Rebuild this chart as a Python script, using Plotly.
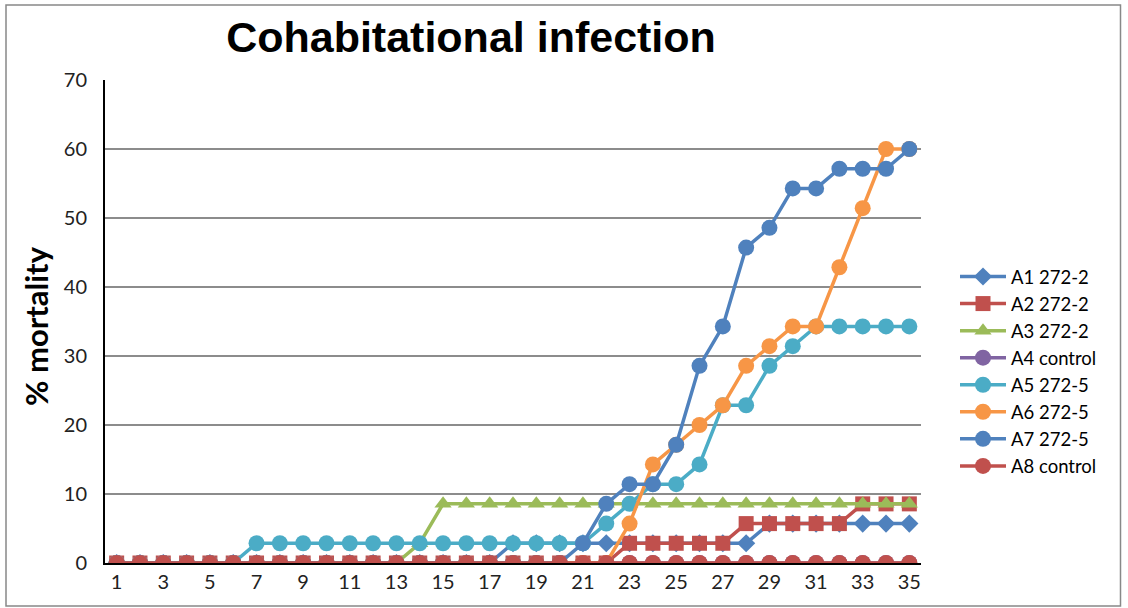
import plotly.graph_objects as go

days = [1, 2, 3, 4, 5, 6, 7, 8, 9, 10, 11, 12, 13, 14, 15, 16, 17, 18, 19, 20,
        21, 22, 23, 24, 25, 26, 27, 28, 29, 30, 31, 32, 33, 34, 35]
x_tick_labels = [1, 3, 5, 7, 9, 11, 13, 15, 17, 19, 21, 23, 25, 27, 29, 31, 33, 35]
y_tick_labels = [0, 10, 20, 30, 40, 50, 60, 70]

series_names = ["A1 272-2", "A2 272-2", "A3 272-2", "A4 control",
                "A5 272-5", "A6 272-5", "A7 272-5", "A8 control"]

a1 = [0, 0, 0, 0, 0, 0, 0, 0, 0, 0, 0, 0, 0, 0, 0, 0, 0,
      2.86, 2.86, 2.86, 2.86, 2.86, 2.86, 2.86, 2.86, 2.86, 2.86, 2.86,
      5.71, 5.71, 5.71, 5.71, 5.71, 5.71, 5.71]
a2 = [0, 0, 0, 0, 0, 0, 0, 0, 0, 0, 0, 0, 0, 0, 0, 0, 0, 0, 0, 0, 0, 0,
      2.86, 2.86, 2.86, 2.86, 2.86,
      5.71, 5.71, 5.71, 5.71, 5.71,
      8.57, 8.57, 8.57]
a3 = [0, 0, 0, 0, 0, 0, 0, 0, 0, 0, 0, 0, 0, 2.86,
      8.57, 8.57, 8.57, 8.57, 8.57, 8.57, 8.57, 8.57, 8.57, 8.57, 8.57,
      8.57, 8.57, 8.57, 8.57, 8.57, 8.57, 8.57, 8.57, 8.57, 8.57]
a4 = [0, 0, 0, 0, 0, 0, 0, 0, 0, 0, 0, 0, 0, 0, 0, 0, 0, 0, 0, 0,
      0, 0, 0, 0, 0, 0, 0, 0, 0, 0, 0, 0, 0, 0, 0]
a5 = [0, 0, 0, 0, 0, 0,
      2.86, 2.86, 2.86, 2.86, 2.86, 2.86, 2.86, 2.86, 2.86, 2.86, 2.86, 2.86,
      2.86, 2.86, 2.86,
      5.71, 8.57, 11.43, 11.43, 14.29, 22.86, 22.86, 28.57, 31.43,
      34.29, 34.29, 34.29, 34.29, 34.29]
a6 = [0, 0, 0, 0, 0, 0, 0, 0, 0, 0, 0, 0, 0, 0, 0, 0, 0, 0, 0, 0, 0, 0,
      5.71, 14.29, 17.14, 20.0, 22.86, 28.57, 31.43, 34.29, 34.29,
      42.86, 51.43, 60.0, 60.0]
a7 = [0, 0, 0, 0, 0, 0, 0, 0, 0, 0, 0, 0, 0, 0, 0, 0, 0, 0, 0, 0,
      2.86, 8.57, 11.43, 11.43, 17.14, 28.57, 34.29, 45.71, 48.57,
      54.29, 54.29, 57.14, 57.14, 57.14, 60.0]
a8 = [0, 0, 0, 0, 0, 0, 0, 0, 0, 0, 0, 0, 0, 0, 0, 0, 0, 0, 0, 0,
      0, 0, 0, 0, 0, 0, 0, 0, 0, 0, 0, 0, 0, 0, 0]

values = [a1, a2, a3, a4, a5, a6, a7, a8]
colors = ["#4F81BD", "#C0504D", "#9BBB59", "#8064A2",
          "#4BACC6", "#F79646", "#4F81BD", "#C0504D"]
symbols = ["diamond", "square", "triangle-up", "circle",
           "circle", "circle", "circle", "circle"]
sizes = [14, 15, 15, 16, 16, 16, 16, 16]

fig = go.Figure()
for i, (name, vals) in enumerate(zip(series_names, values)):
    fig.add_trace(go.Scatter(
        x=days, y=vals, name=name, mode="lines+markers",
        line=dict(color=colors[i], width=3.5),
        marker=dict(color=colors[i], symbol=symbols[i], size=sizes[i],
                    line=dict(width=0)),
        legendgroup=name,
    ))

W, H = 1128, 608
# plot area in page coordinates: x 105..921, y 80..563
L, R, T, B = 105, 921, 80, 563
pw, ph = R - L, B - T

def px_x(p):
    return (p - L) / pw

def px_y(p):
    return (B - p) / ph

fig.update_layout(
    width=W, height=H,
    margin=dict(l=L, r=W - R, t=T, b=H - B),
    paper_bgcolor="white", plot_bgcolor="white",
    font=dict(family="Lato, Liberation Sans, sans-serif", size=20, color="#000000"),
    title=dict(text="<b>Cohabitational infection</b>",
               font=dict(family="Liberation Sans, Arial, sans-serif", size=43, color="#000000"),
               xref="paper", x=px_x(471), xanchor="center",
               yref="container", y=1 - 37 / H, yanchor="middle"),
    showlegend=True,
    legend=dict(x=px_x(955), y=px_y(258), xanchor="left", yanchor="top",
                font=dict(family="Lato, sans-serif", size=18.5, color="#000000"),
                traceorder="grouped", tracegroupgap=0, itemwidth=46,
                bgcolor="rgba(0,0,0,0)"),
    xaxis=dict(range=[0.5, 35.5], tickmode="array", tickvals=x_tick_labels,
               ticktext=[str(v) for v in x_tick_labels],
               showgrid=False, zeroline=False, showline=True,
               linecolor="#000000", linewidth=1.5, ticks="",
               tickfont=dict(family="Lato, sans-serif", size=20, color="#222222"),
               ticklabelstandoff=0),
    yaxis=dict(range=[0, 70], tickmode="array", tickvals=y_tick_labels,
               showgrid=True, gridcolor="#8C8C8C", gridwidth=1.5,
               zeroline=False, showline=True, linecolor="#000000", linewidth=2,
               ticks="",
               tickfont=dict(family="Lato, sans-serif", size=20, color="#222222"),
               ticklabelstandoff=12),
    annotations=[dict(text="<b>% mortality</b>", xref="paper", yref="paper",
                      x=px_x(36), y=px_y(326), xanchor="center", yanchor="middle",
                      textangle=-90, showarrow=False,
                      font=dict(family="Lato, sans-serif", size=31, color="#000000"))],
    shapes=[dict(type="rect", xref="paper", yref="paper",
                 x0=px_x(6), x1=px_x(1120.5), y0=px_y(606), y1=px_y(5),
                 line=dict(color="#888888", width=1.5), fillcolor="rgba(0,0,0,0)",
                 layer="above")],
)

fig.write_html("out.html",
               config={"displayModeBar": False},
               post_script="document.body.style.margin='0';document.body.style.overflow='hidden';")
